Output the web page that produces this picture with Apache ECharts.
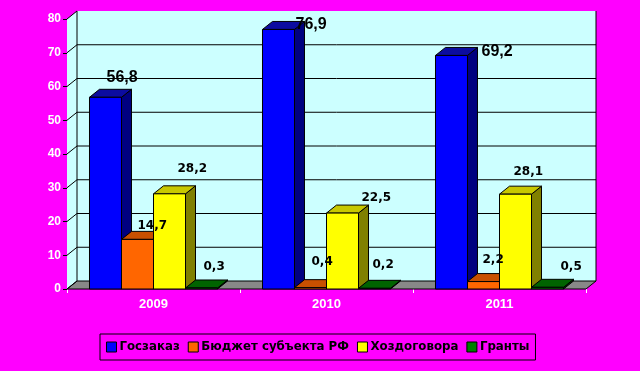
<!DOCTYPE html>
<html>
<head>
<meta charset="utf-8">
<script src="https://cdn.jsdelivr.net/npm/echarts@6/dist/echarts.min.js"></script>
<style>
html,body{margin:0;padding:0;background:#ff00ff;}
#chart{width:640px;height:371px;}
</style>
</head>
<body>
<div id="chart"></div>
<script>
// ---- data ----
var categories = ['2009', '2010', '2011'];
var seriesNames = ['Госзаказ', 'Бюджет субъекта РФ', 'Хоздоговора', 'Гранты'];
var goszakaz = [56.8, 76.9, 69.2];
var budget = [14.7, 0.4, 2.2];
var hozdog = [28.2, 22.5, 28.1];
var granty = [0.3, 0.2, 0.5];
var yTicks = [0, 10, 20, 30, 40, 50, 60, 70, 80];

// ---- styling / layout config ----
var faceColors = [
  {front: '#0000ff', side: '#000080', top: '#0c0ca0'},
  {front: '#ff6600', side: '#993d00', top: '#c85000'},
  {front: '#ffff00', side: '#808000', top: '#c8c800'},
  {front: '#008000', side: '#004000', top: '#006400'}
];
var DEPTH = [10, -8];
var BAR_FRAC = 0.185;
// label nudges per series per category: [dx from bar left, dy from bar top (center)]
var labelNudge = [
  [[17, -20], [33, -5], [46, -4]],
  [[16, -14], [17, -26], [15, -22]],
  [[24, -25], [35, -15], [14, -22]],
  [[18, -21], [14, -23], [29, -20]]
];
var allValues = [goszakaz, budget, hozdog, granty];

function fmt(v) { return String(v).replace('.', ','); }

function wallRender(params, api) {
  var cs = params.coordSys;
  var left = cs.x, right = cs.x + cs.width;
  var bottom = api.coord([0, 0])[1];
  var top = api.coord([0, yTicks[yTicks.length - 1]])[1];
  var dx = DEPTH[0], dy = DEPTH[1];
  var line = {stroke: '#000', lineWidth: 1};
  var children = [];
  children.push({type: 'rect', shape: {x: left + dx, y: top + dy, width: right - left, height: bottom - top},
    style: {fill: '#ccffff'}});
  children.push({type: 'polygon', shape: {points: [[left, bottom], [left, top], [left + dx, top + dy], [left + dx, bottom + dy]]},
    style: {fill: '#ccffff'}});
  children.push({type: 'polygon', shape: {points: [[left, bottom], [right, bottom], [right + dx, bottom + dy], [left + dx, bottom + dy]]},
    style: {fill: '#888888', stroke: '#000', lineWidth: 1}});
  yTicks.forEach(function (v) {
    var y = api.coord([0, v])[1];
    if (v > 0 && v < yTicks[yTicks.length - 1]) {
      children.push({type: 'line', shape: {x1: left + dx, y1: y + dy, x2: right + dx, y2: y + dy}, style: line});
    }
    children.push({type: 'line', shape: {x1: left, y1: y, x2: left + dx, y2: y + dy}, style: line});
  });
  children.push({type: 'line', shape: {x1: left + dx, y1: top + dy, x2: left + dx, y2: bottom + dy}, style: line});
  children.push({type: 'line', shape: {x1: right + dx, y1: top + dy, x2: right + dx, y2: bottom + dy}, style: line});
  return {type: 'group', children: children};
}

function barGeom(si, params, api) {
  var ci = api.value(0);
  var val = api.value(1);
  var band = api.size([1, 0])[0];
  var bw = band * BAR_FRAC;
  var center = api.coord([ci, 0])[0];
  return {
    ci: ci, val: val, bw: bw,
    x0: center - 2 * bw + si * bw,
    yBot: api.coord([ci, 0])[1],
    yTop: api.coord([ci, val])[1]
  };
}

function makeBarRender(si) {
  return function (params, api) {
    var g = barGeom(si, params, api);
    var x0 = g.x0, bw = g.bw, yTop = g.yTop, yBot = g.yBot;
    var dx = DEPTH[0], dy = DEPTH[1];
    var fc = faceColors[si];
    var st = {stroke: '#000', lineWidth: 1, lineJoin: 'round'};
    return {type: 'group', children: [
      {type: 'polygon', shape: {points: [[x0 + bw, yTop], [x0 + bw + dx, yTop + dy], [x0 + bw + dx, yBot + dy], [x0 + bw, yBot]]},
        style: Object.assign({fill: fc.side}, st)},
      {type: 'polygon', shape: {points: [[x0, yTop], [x0 + dx, yTop + dy], [x0 + bw + dx, yTop + dy], [x0 + bw, yTop]]},
        style: Object.assign({fill: fc.top}, st)},
      {type: 'rect', shape: {x: x0, y: yTop, width: bw, height: yBot - yTop},
        style: Object.assign({fill: fc.front}, st)}
    ]};
  };
}

function makeLabelRender(si) {
  return function (params, api) {
    var g = barGeom(si, params, api);
    var nudge = labelNudge[si][g.ci];
    var big = si === 0;
    return {type: 'text', x: g.x0 + nudge[0], y: g.yTop + nudge[1],
      style: {text: fmt(g.val), fill: '#000', align: 'left', verticalAlign: 'middle',
        font: big ? 'bold 16px "Liberation Sans", Arial, sans-serif' : 'bold 12px "DejaVu Sans", sans-serif'}};
  };
}

var series = [{
  type: 'custom', name: '__walls', silent: true, z: 1,
  data: [[0, 0]], renderItem: wallRender, encode: {x: 0, y: 1}
}];
allValues.forEach(function (arr, si) {
  series.push({
    type: 'custom', name: seriesNames[si], z: 2 + si,
    itemStyle: {color: faceColors[si].front},
    data: arr.map(function (v, i) { return [i, v]; }),
    encode: {x: 0, y: 1},
    renderItem: makeBarRender(si)
  });
});
allValues.forEach(function (arr, si) {
  series.push({
    type: 'custom', name: '__labels' + si, z: 20, silent: true,
    data: arr.map(function (v, i) { return [i, v]; }),
    encode: {x: 0, y: 1},
    renderItem: makeLabelRender(si)
  });
});

var chart = echarts.init(document.getElementById('chart'), null, {renderer: 'canvas'});
chart.setOption({
  backgroundColor: '#ff00ff',
  animation: false,
  grid: {left: 67, right: 54, top: 19, bottom: 82},
  xAxis: {
    type: 'category', data: categories,
    axisLine: {show: false},
    axisTick: {show: true, length: 4, lineStyle: {color: '#fff'}},
    axisLabel: {margin: 9, color: '#fff', fontWeight: 'bold', fontSize: 13, fontFamily: '"Liberation Sans", Arial, sans-serif',
      textShadowColor: '#000', textShadowOffsetX: 1, textShadowOffsetY: 1, textShadowBlur: 0}
  },
  yAxis: {
    type: 'value', min: 0, max: 80, interval: 10,
    axisLine: {show: true, lineStyle: {color: '#000'}},
    axisTick: {show: true, length: 4, lineStyle: {color: '#000'}},
    splitLine: {show: false},
    axisLabel: {margin: 6, color: '#fff', fontWeight: 'bold', fontSize: 12, fontFamily: '"Liberation Sans", Arial, sans-serif',
      textShadowColor: '#000', textShadowOffsetX: 1, textShadowOffsetY: 1, textShadowBlur: 0}
  },
  legend: {
    data: seriesNames,
    left: 100, top: 334,
    padding: [7, 6],
    itemGap: 8, itemWidth: 10, itemHeight: 10,
    icon: 'rect',
    borderColor: '#000', borderWidth: 1,
    itemStyle: {borderColor: '#000', borderWidth: 1},
    textStyle: {color: '#000', fontWeight: 'bold', fontSize: 11.8, fontFamily: '"DejaVu Sans", sans-serif', padding: [0, 0, 0, -2],
      textShadowColor: '#fff', textShadowOffsetX: 1, textShadowOffsetY: 1, textShadowBlur: 0}
  },
  series: series
});
</script>
</body>
</html>
